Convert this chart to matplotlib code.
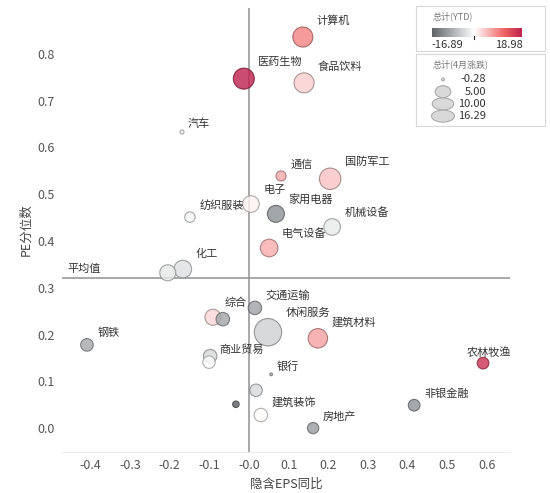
import numpy as np
import matplotlib
matplotlib.use('Agg')
import matplotlib.pyplot as plt
from matplotlib.colors import LinearSegmentedColormap, Normalize
from matplotlib.patches import Rectangle, Ellipse

plt.rcParams['font.family'] = ['Noto Sans CJK SC', 'DejaVu Sans']
plt.rcParams['axes.unicode_minus'] = False

# industry data; '' = bubble without label
names = ['计算机', '医药生物', '食品饮料', '汽车', '通信', '国防军工', '电子', '家用电器',
         '纺织服装', '机械设备', '电气设备', '', '化工', '综合', '', '交通运输', '休闲服务',
         '建筑材料', '钢铁', '', '商业贸易', '银行', '', '', '建筑装饰', '房地产',
         '农林牧渔', '非银金融']
eps_yoy = [0.136, -0.013, 0.139, -0.169, 0.081, 0.205, 0.005, 0.068,
           -0.149, 0.210, 0.051, -0.205, -0.167, -0.091, -0.066, 0.015, 0.048,
           0.174, -0.409, -0.098, -0.101, 0.056, 0.018, -0.033, 0.030, 0.162,
           0.591, 0.417]
pe_pct = [0.836, 0.747, 0.738, 0.633, 0.539, 0.533, 0.479, 0.458,
          0.451, 0.430, 0.385, 0.332, 0.340, 0.237, 0.233, 0.257, 0.205,
          0.192, 0.178, 0.154, 0.141, 0.115, 0.081, 0.051, 0.028, 0.000,
          0.139, 0.049]
ytd = [9.3, 18.98, 3.6, -1.5, 6.5, 4.5, 1.0, -11.8,
       -1.3, -2.2, 6.2, -2.7, -3.4, 3.0, -9.8, -10.0, -5.0,
       7.0, -9.3, -4.2, -0.2, -8.0, -4.0, -16.89, 0.3, -10.5,
       17.0, -11.5]
apr_chg = [8.5, 9.4, 8.5, -0.1, 1.8, 9.8, 5.7, 6.0,
           2.0, 5.7, 6.5, 5.3, 6.5, 5.3, 3.6, 3.6, 16.29,
           8.0, 3.1, 3.6, 3.0, -0.28, 3.0, 0.5, 3.6, 2.4,
           2.6, 2.6]

avg_pe = 0.321
ytd_min, ytd_max = -16.89, 18.98
size_ticks = [-0.28, 5.00, 10.00, 16.29]

cmap = LinearSegmentedColormap.from_list(
    'gr', [(0.0, '#5f6468'), (0.47, '#ffffff'), (0.80, '#f06464'), (1.0, '#bf2450')])
norm = Normalize(ytd_min, ytd_max)


def bubble_area(v):
    return 4 + (np.asarray(v) + 0.28) * 23.2


fig = plt.figure(figsize=(5.5, 4.93), dpi=100)
ax = fig.add_axes([62 / 550, 41 / 493, 448 / 550, 444 / 493])

ax.set_xlim(-0.472, 0.659)
ax.set_ylim(-0.051, 0.898)
for side in ['top', 'right', 'left']:
    ax.spines[side].set_visible(False)
ax.spines['bottom'].set_color('#ececec')
ax.tick_params(length=0, labelsize=9, colors='#555555', pad=5)
ax.set_xticks(np.arange(-0.4, 0.61, 0.1))
ax.set_yticks(np.arange(0.0, 0.81, 0.1))
ax.set_xticklabels(['%.1f' % t for t in np.arange(-0.4, 0.61, 0.1)])
ax.set_yticklabels(['%.1f' % t for t in np.arange(0.0, 0.81, 0.1)])
ax.set_xlabel('隐含EPS同比', fontsize=9, color='#444444', labelpad=4)
ax.set_ylabel('PE分位数', fontsize=9, color='#444444', labelpad=4)

ax.axvline(0, color='#9a9a9a', lw=1.2, zorder=1)
ax.axhline(avg_pe, color='#9a9a9a', lw=1.2, zorder=1)
ax.text(-0.457, avg_pe + 0.008, '平均值', fontsize=8, color='#333333', va='bottom')

sizes = bubble_area(apr_chg)
faces = cmap(norm(np.array(ytd)))
edges = faces.copy()
edges[:, :3] = edges[:, :3] * 0.62

order = np.argsort(-sizes)
ax.scatter(np.array(eps_yoy)[order], np.array(pe_pct)[order], s=sizes[order],
           c=faces[order], edgecolors=edges[order], linewidths=0.8, alpha=0.82, zorder=3)

label_special = {'农林牧渔': (6, 11, 'center')}
for n, x, y, s in zip(names, eps_yoy, pe_pct, sizes):
    if not n:
        continue
    r = np.sqrt(s) / 2 / 0.72
    dx, dy, ha = label_special.get(n, (r + 4, r + 6, 'left'))
    ax.annotate(n, (x, y), xytext=(dx * 0.72, dy * 0.72), textcoords='offset points',
                ha=ha, va='center', fontsize=8, color='#333333', zorder=4)

# legend panel, drawn in pixel coordinates
lg = fig.add_axes([415 / 550, 1 - 127 / 493, 131 / 550, 122 / 493])
lg.set_xlim(415, 546)
lg.set_ylim(127, 5)
lg.axis('off')
lg.add_patch(Rectangle((416, 6), 129, 45, fc='white', ec='#d8d8d8', lw=0.8))
lg.add_patch(Rectangle((416, 54), 129, 72, fc='white', ec='#d8d8d8', lw=0.8))
lg.text(433, 16, '总计(YTD)', fontsize=6.5, color='#777777', va='center')
grad = np.linspace(0, 1, 256).reshape(1, -1)
lg.imshow(grad, cmap=cmap, aspect='auto', extent=(432, 522, 37, 28), zorder=2)
zero_x = 432 + norm(0) * 90
lg.plot([zero_x, zero_x], [36, 39], color='#222222', lw=0.8, zorder=3)
lg.text(431, 45, '%.2f' % ytd_min, fontsize=8, color='#333333', va='center', ha='left')
lg.text(523, 45, '%.2f' % ytd_max, fontsize=8, color='#333333', va='center', ha='right')

lg.text(433, 64, '总计(4月涨跌)', fontsize=6.5, color='#777777', va='center')
for i, v in enumerate(size_ticks):
    yy = 79.5 + i * 12.2
    r = np.sqrt(bubble_area(v)) / 2 / 0.72
    lg.add_patch(Ellipse((443, yy), min(2 * r, 23), min(2 * r, 12),
                         fc='#d9d9d9', ec='#aaaaaa', lw=0.8))
    lg.text(486, yy, '%.2f' % v, fontsize=8, color='#333333', va='center', ha='right')

fig.savefig('out.png', dpi=100)
